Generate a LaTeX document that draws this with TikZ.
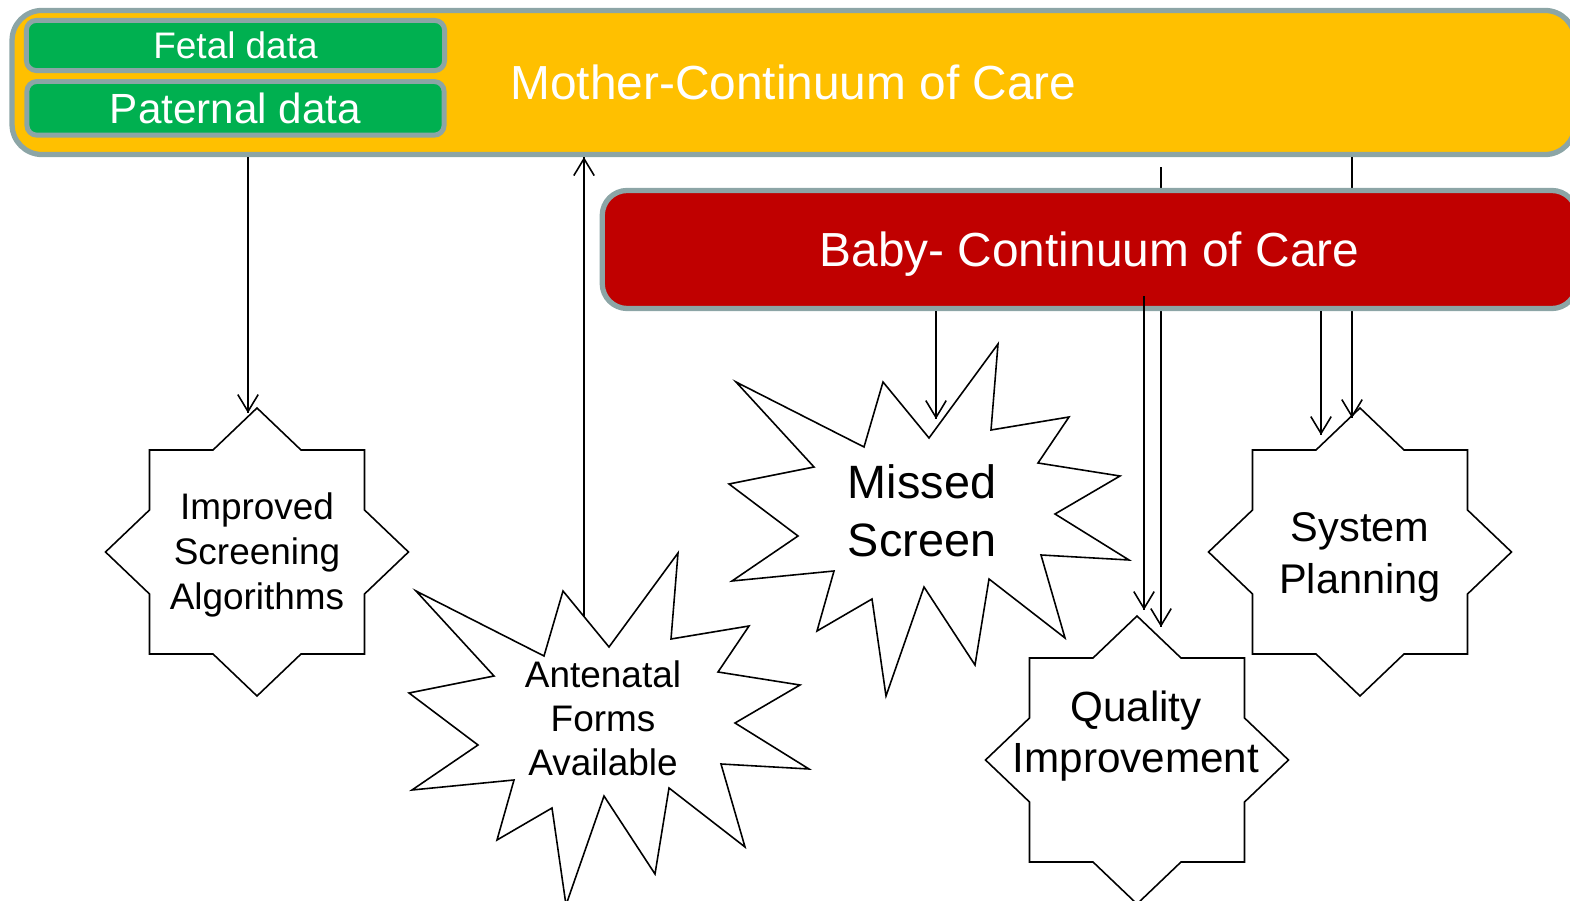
\documentclass[tikz,border=0pt]{standalone}
\usepackage{fontspec}
\setmainfont{Liberation Sans}
\usepackage{tikz}
\usetikzlibrary{arrows.meta}
\usetikzlibrary{decorations.markings}
\usetikzlibrary{positioning}
\definecolor{careyellow}{HTML}{FFC000}
\definecolor{carered}{HTML}{C00000}
\definecolor{datagreen}{HTML}{00B050}
\definecolor{rimgray}{HTML}{8CA5A6}
\tikzset{->/.style = {decoration={markings,
                                  mark=at position 1 with {\arrow{Straight Barb[length=4.8pt, width=5.8pt]}}},
                      postaction={decorate}}}
\tikzset{carebox/.style = {draw=rimgray, line width=1.5pt, rounded corners=0.3cm,
                           text=white, text height=9.8pt, text depth=0pt,
                           font=\fontsize{13.6}{16}\selectfont}}
\tikzset{databox/.style = {draw=rimgray, fill=datagreen, line width=1.4pt, rounded corners=0.1cm,
                           text=white, text depth=0pt}}
\tikzset{blurb/.style = {align=center, inner sep=0}}
\tikzset{octa/.pic = {\draw (0, -144) -- (44, -102) -- (107.5, -102) -- (107.5, -42) -- (151.5, 0)
                        -- (107.5, 42) -- (107.5, 102) -- (44, 102) -- (0, 144) -- (-44, 102)
                        -- (-107.5, 102) -- (-107.5, 42) -- (-151.5, 0) -- (-107.5, -42)
                        -- (-107.5, -102) -- (-44, -102) -- cycle;}}
\tikzset{burst/.pic = {\draw (76, -168) -- (69, -82) -- (147, -95) -- (116, -49) -- (198, -36)
                         -- (133, 2) -- (207, 48) -- (119, 43) -- (143, 126) -- (67, 67)
                         -- (53, 153) -- (2, 75) -- (-36, 184) -- (-50, 87) -- (-105, 119)
                         -- (-88, 59) -- (-190, 69) -- (-124, 24) -- (-193, -28) -- (-108, -45)
                         -- (-186, -130) -- (-58, -65) -- (-39, -130) -- (7, -74) -- cycle;}}

\begin{document}
\begin{tikzpicture}[x=0.01cm, y=-0.01cm, line width=0.45pt]
  \useasboundingbox (0, 0) rectangle (1570, 901);
  \clip (0, 0) rectangle (1570, 901);

  \node [carebox, fill=careyellow, minimum width=15.62cm, minimum height=1.44cm] (mother) at (793.5, 82.5) {Mother-Continuum of Care};
  \node [databox, minimum width=4.18cm, minimum height=0.5cm, text height=7.6pt, font=\fontsize{10.5}{12}\selectfont] (fetal) at (235.5, 45.5) {Fetal data};
  \node [databox, minimum width=4.17cm, minimum height=0.53cm, text height=8.6pt, font=\fontsize{12}{14}\selectfont, below=0.06cm of fetal] (paternal) {Paternal data};

  % these two pass behind the baby box
  \coordinate (qi-b) at (1161, 627);
  \coordinate (sp-b) at (1352, 418);
  \draw [->] ([yshift=-0.1cm]mother.south -| qi-b) -- (qi-b);
  \draw [->] (mother.south -| sp-b) -- (sp-b);

  \node [carebox, fill=carered, rounded corners=0.25cm, minimum width=9.74cm, minimum height=1.18cm] (baby) at (1089.5, 249.5) {Baby- Continuum of Care};

  \pic at (257, 552) {octa};
  \node [blurb, font=\fontsize{10.5}{12.7}\selectfont] (isa) at (257, 555) {Improved\\Screening\\Algorithms};
  \pic at (1137, 760) {octa};
  \node [blurb, font=\fontsize{12}{14.5}\selectfont] (qi) at (1136, 736) {Quality\\Improvement};
  \pic at (1360, 552) {octa};
  \node [blurb, font=\fontsize{11.8}{14.8}\selectfont] (sp) at (1360, 557) {System\\Planning};

  \pic at (922, 512) {burst};
  \node [blurb, font=\fontsize{13.3}{16.5}\selectfont] (ms) at (922, 511) {Missed\\Screen};
  \pic at (602, 721) {burst};
  \node [blurb, font=\fontsize{10.5}{12.5}\selectfont] (afa) at (603, 718) {Antenatal\\Forms\\Available};

  \coordinate (isa-in) at (248, 413);
  \coordinate (afa-out) at (584, 617);
  \coordinate (ms-in) at (936, 419);
  \coordinate (qi-a) at (1144, 610);
  \coordinate (sp-a) at (1321, 435);
  \draw [->] (mother.south -| isa-in) -- (isa-in);
  \draw [->] (afa-out) -- (mother.south -| afa-out);
  \draw [->] (baby.south -| ms-in) -- (ms-in);
  \draw [->] ([yshift=0.15cm]baby.south -| qi-a) -- (qi-a);
  \draw [->] (baby.south -| sp-a) -- (sp-a);
\end{tikzpicture}
\end{document}
